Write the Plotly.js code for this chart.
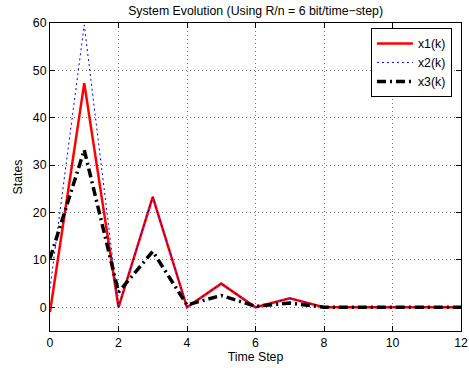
<!DOCTYPE html>
<html>
<head>
<meta charset="utf-8">
<script src="https://cdn.plot.ly/plotly-3.0.1.min.js"></script>
<style>html,body{margin:0;padding:0;background:#fff;}#chart{width:469px;height:368px;}</style>
</head>
<body>
<div id="chart"></div>
<script>
const timeSteps = [0,1,2,3,4,5,6,7,8,9,10,11,12];
const x1 = [-1, 47.3, 0, 23.3, 0, 5, 0, 1.9, 0, 0, 0, 0, 0];
const x2 = [4, 59.6, 0, 23.3, 0, 5, 0, 1.9, 0, 0, 0, 0, 0];
const x3 = [10.3, 33.2, 3.2, 11.8, 0.5, 2.5, 0.2, 0.9, 0, 0, 0, 0, 0];
const xTicks = [0,2,4,6,8,10,12];
const yTicks = [0,10,20,30,40,50,60];

const font = {family: 'Liberation Sans, Arial, sans-serif', size: 12.3, color: '#000'};
const traces = [
  {x: timeSteps, y: x1, name: 'x1(k)', mode: 'lines', line: {color: '#ff0000', width: 2.5}},
  {x: timeSteps, y: x2, name: 'x2(k)', mode: 'lines', line: {color: '#0000ff', width: 1, dash: '2px,3px'}},
  {x: timeSteps, y: x3, name: 'x3(k)', mode: 'lines', line: {color: '#000000', width: 3.5, dash: '9px,4px,2px,4px'}}
];
const axisCommon = {
  showline: true, linecolor: '#000', linewidth: 1, mirror: 'ticks',
  ticks: 'inside', ticklen: 5, tickcolor: '#000', tickwidth: 1,
  showgrid: true, gridcolor: '#777', griddash: '1px,3px', gridwidth: 1,
  zeroline: false, tickfont: font
};
const layout = {
  width: 469, height: 368,
  margin: {l: 50, r: 8, t: 23, b: 37},
  paper_bgcolor: '#fff', plot_bgcolor: '#fff',
  font: font,
  title: {text: 'System Evolution (Using R/n = 6 bit/time\u2212step)', font: {family: font.family, size: 12.3, color: '#000'}, x: 0.545, xanchor: 'center', y: 0.972, yanchor: 'middle'},
  xaxis: Object.assign({}, axisCommon, {range: [0, 12], tickvals: xTicks, ticktext: xTicks.map(String),
    title: {text: 'Time Step', font: font, standoff: 3}}),
  yaxis: Object.assign({}, axisCommon, {range: [-5, 60], tickvals: yTicks, ticktext: yTicks.map(String),
    title: {text: 'States', font: font, standoff: 7}}),
  showlegend: true,
  legend: {x: 0.978, xanchor: 'right', y: 0.984, yanchor: 'top', bgcolor: '#fff', bordercolor: '#000', borderwidth: 1,
    font: {family: font.family, size: 12.3, color: '#000'}, tracegroupgap: 0, itemwidth: 36}
};
Plotly.newPlot('chart', traces, layout, {displayModeBar: false, staticPlot: true});
</script>
</body>
</html>
